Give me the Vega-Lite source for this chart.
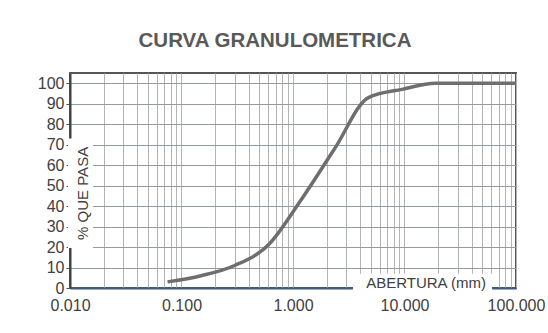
{
  "$schema": "https://vega.github.io/schema/vega-lite/v6.json",
  "width": 446,
  "height": 215,
  "autosize": "none",
  "padding": {"left": 70, "top": 73, "right": 32, "bottom": 45},
  "background": "white",
  "config": {
    "font": "Liberation Sans",
    "view": {"stroke": "#555555", "strokeWidth": 2},
    "axisX": {
      "title": null,
      "format": ".3f",
      "labelExpr": "indexof(['0.010','0.100','1.000','10.000','100.000'], datum.label) >= 0 ? datum.label : ''",
      "labelFont": "Liberation Sans",
      "labelFontSize": 16,
      "labelColor": "#404040",
      "labelPadding": 9,
      "labelFlush": false,
      "labelOverlap": false,
      "ticks": false,
      "grid": true,
      "gridColor": "#b4b4b4",
      "gridWidth": 1,
      "domain": true,
      "domainColor": "#3d5a80",
      "domainWidth": 2
    },
    "axisY": {
      "title": null,
      "labelFont": "Liberation Sans",
      "labelFontSize": 16,
      "labelColor": "#404040",
      "labelPadding": 2,
      "labelOverlap": false,
      "labelFlush": false,
      "tickSize": 4,
      "tickColor": "#555555",
      "grid": true,
      "gridColor": "#8f9ba6",
      "gridWidth": 1,
      "domain": true,
      "domainColor": "#404040",
      "domainWidth": 2
    }
  },
  "title": {
    "text": "CURVA GRANULOMETRICA",
    "font": "Liberation Sans",
    "fontSize": 20.5,
    "fontWeight": "bold",
    "color": "#595959",
    "anchor": "middle",
    "offset": 22,
    "dx": -18
  },
  "datasets": {
    "curve": [
      {"abertura": 0.075, "pasa": 3},
      {"abertura": 0.15, "pasa": 6},
      {"abertura": 0.3, "pasa": 11},
      {"abertura": 0.6, "pasa": 21},
      {"abertura": 1.18, "pasa": 43},
      {"abertura": 2.36, "pasa": 68},
      {"abertura": 4.75, "pasa": 93},
      {"abertura": 9.5, "pasa": 97},
      {"abertura": 19, "pasa": 100},
      {"abertura": 25, "pasa": 100},
      {"abertura": 37.5, "pasa": 100},
      {"abertura": 50, "pasa": 100},
      {"abertura": 75, "pasa": 100},
      {"abertura": 100, "pasa": 100}
    ],
    "one": [{"k": 1}]
  },
  "layer": [
    {
      "data": {"name": "curve"},
      "mark": {"type": "line", "interpolate": "monotone", "color": "#6e6e6e", "strokeWidth": 3.5},
      "encoding": {
        "x": {
          "field": "abertura", "type": "quantitative",
          "scale": {"type": "log", "domain": [0.01, 100], "nice": false},
          "axis": {"values": [0.01,0.02,0.03,0.04,0.05,0.06,0.07,0.08,0.09,0.1,0.2,0.3,0.4,0.5,0.6,0.7,0.8,0.9,1,2,3,4,5,6,7,8,9,10,20,30,40,50,60,70,80,90,100]}
        },
        "y": {
          "field": "pasa", "type": "quantitative",
          "scale": {"domain": [0, 105], "nice": false},
          "axis": {"values": [0,10,20,30,40,50,60,70,80,90,100]}
        }
      }
    },
    {
      "data": {"name": "one"},
      "mark": {"type": "rect", "color": "white"},
      "encoding": {
        "x": {"datum": 0.0096, "type": "quantitative", "axis": {"values": [0.01,0.02,0.03,0.04,0.05,0.06,0.07,0.08,0.09,0.1,0.2,0.3,0.4,0.5,0.6,0.7,0.8,0.9,1,2,3,4,5,6,7,8,9,10,20,30,40,50,60,70,80,90,100]}},
        "x2": {"datum": 0.0161},
        "y": {"datum": 19.5, "type": "quantitative", "axis": {"values": [0,10,20,30,40,50,60,70,80,90,100]}},
        "y2": {"datum": 73}
      }
    },
    {
      "data": {"name": "one"},
      "mark": {"type": "rect", "color": "white"},
      "encoding": {
        "x": {"datum": 3.45, "type": "quantitative", "axis": {"values": [0.01,0.02,0.03,0.04,0.05,0.06,0.07,0.08,0.09,0.1,0.2,0.3,0.4,0.5,0.6,0.7,0.8,0.9,1,2,3,4,5,6,7,8,9,10,20,30,40,50,60,70,80,90,100]}},
        "x2": {"datum": 61},
        "y": {"datum": -1.5, "type": "quantitative", "axis": {"values": [0,10,20,30,40,50,60,70,80,90,100]}},
        "y2": {"datum": 7}
      }
    },
    {
      "data": {"name": "one"},
      "mark": {"type": "text", "text": "% QUE PASA", "angle": 270, "align": "center", "baseline": "middle", "font": "Liberation Sans", "fontSize": 15, "color": "#404040"},
      "encoding": {
        "x": {"datum": 0.0131, "type": "quantitative", "axis": {"values": [0.01,0.02,0.03,0.04,0.05,0.06,0.07,0.08,0.09,0.1,0.2,0.3,0.4,0.5,0.6,0.7,0.8,0.9,1,2,3,4,5,6,7,8,9,10,20,30,40,50,60,70,80,90,100]}},
        "y": {"datum": 46.2, "type": "quantitative", "axis": {"values": [0,10,20,30,40,50,60,70,80,90,100]}}
      }
    },
    {
      "data": {"name": "one"},
      "mark": {"type": "text", "text": "ABERTURA (mm)", "align": "center", "baseline": "middle", "font": "Liberation Sans", "fontSize": 15, "color": "#404040"},
      "encoding": {
        "x": {"datum": 15.6, "type": "quantitative", "axis": {"values": [0.01,0.02,0.03,0.04,0.05,0.06,0.07,0.08,0.09,0.1,0.2,0.3,0.4,0.5,0.6,0.7,0.8,0.9,1,2,3,4,5,6,7,8,9,10,20,30,40,50,60,70,80,90,100]}},
        "y": {"datum": 2.3, "type": "quantitative", "axis": {"values": [0,10,20,30,40,50,60,70,80,90,100]}}
      }
    }
  ]
}
